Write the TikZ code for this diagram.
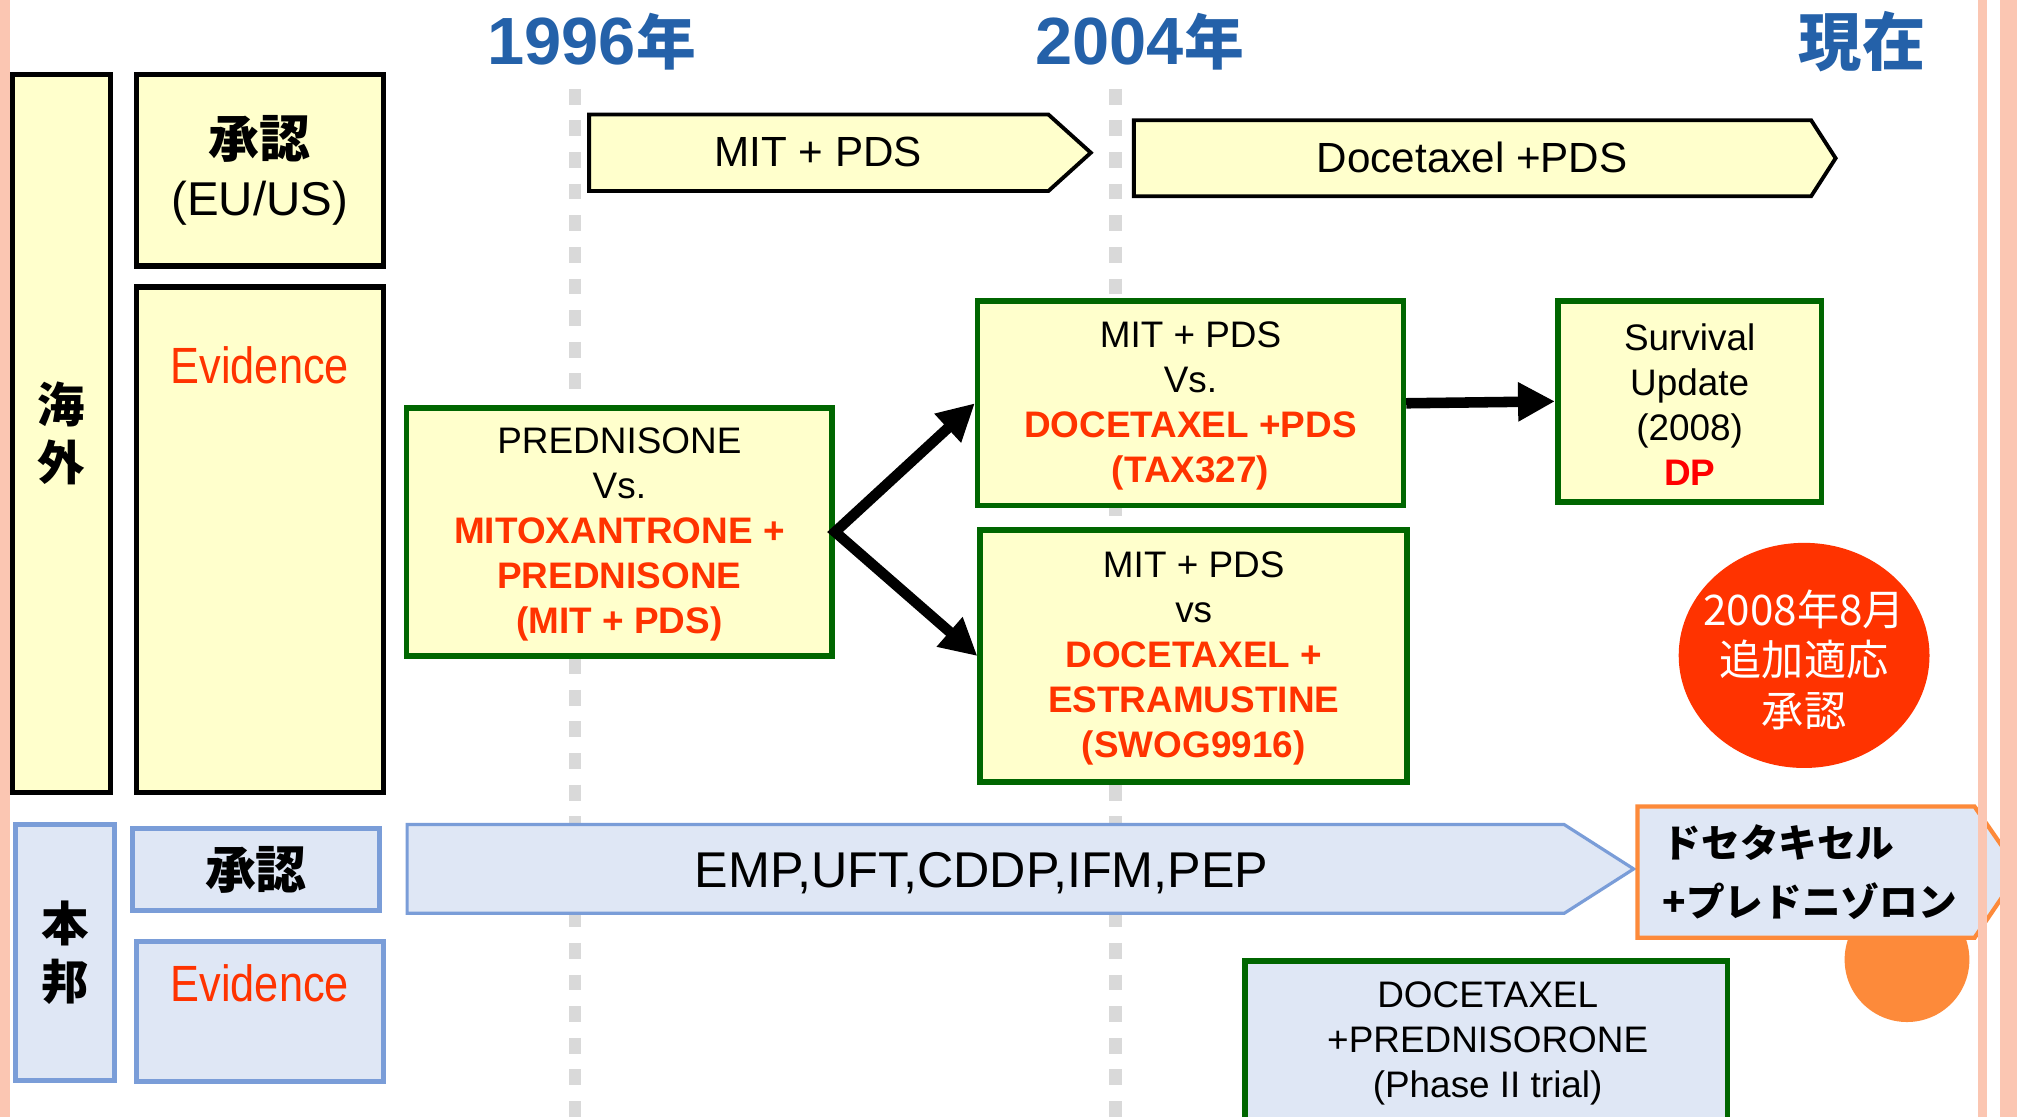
\documentclass[tikz,border=0pt]{standalone}
\usepackage{fontspec}
\setmainfont{Liberation Sans}
\newfontfamily\jpfont{Noto Sans CJK JP}
\newfontfamily\narrowfont{Liberation Sans}[FakeStretch=0.85]
\usetikzlibrary{fit,arrows.meta}
\definecolor{ylfill}{HTML}{FFFFCC}
\definecolor{blfill}{HTML}{DFE7F5}
\definecolor{bledge}{HTML}{7A9DD8}
\definecolor{grn}{HTML}{006600}
\definecolor{redtx}{HTML}{FF3300}
\definecolor{dpred}{HTML}{FF0000}
\definecolor{orng}{HTML}{FD8A3A}
\definecolor{hdblue}{HTML}{2461A9}
\definecolor{dotgray}{HTML}{D9D9D9}
\definecolor{stripe}{HTML}{FBC6B2}
\newcommand{\redtext}[1]{\textcolor{redtx}{\bfseries #1}}
\tikzset{
  timeline/.style={draw=dotgray, line width=3.66pt, dash pattern=on 4.5pt off 4.5pt},
  blkbox/.style={draw=black, fill=ylfill, line width=1.6pt, inner sep=0pt},
  grnbox/.style={draw=grn, fill=ylfill, line width=1.6pt, inner sep=0pt},
  blubox/.style={draw=bledge, fill=blfill, line width=1.5pt, inner sep=0pt},
  boxtext/.style={align=center, yshift=-0.8pt, font=\fontsize{10.5}{12.8}\selectfont},
  yarrow/.style={draw=black, fill=ylfill, line width=1.1pt},
  barrow/.style={draw=bledge, fill=blfill, line width=0.9pt},
  oarrow/.style={draw=orng, fill=blfill, line width=1.2pt},
  year/.style={text=hdblue, font=\bfseries\fontsize{19}{19}\selectfont},
  lab/.style={font=\fontsize{12}{14}\selectfont},
  jplab/.style={font=\jpfont\bfseries\fontsize{13.5}{16.6}\selectfont, align=center},
  evid/.style={text=redtx, font=\narrowfont\fontsize{14.5}{16}\selectfont},
  flow/.style={draw=black, line width=3pt, {Triangle[length=10.5pt,width=10.5pt]}-{Triangle[length=10.5pt,width=10.5pt]}},
  flowone/.style={draw=black, line width=3pt, -{Triangle[length=10.5pt,width=10.5pt]}},
}

\begin{document}
\begin{tikzpicture}[x=0.012864cm, y=-0.012864cm]
  \useasboundingbox (0,0) rectangle (1568,868);
  \clip (0,0) rectangle (1568,868);
  \fill[white] (0,0) rectangle (1568,868);

  % time axis
  \foreach \x in {447,867}
    \draw[timeline] (\x,69) -- (\x,872);
  \node[year] (y1996) at (460,32) {1996{\jpfont\fontsize{17}{17}\selectfont 年}};
  \node[year] (y2004) at (886,32) {2004{\jpfont\fontsize{17}{17}\selectfont 年}};
  \node[year, font=\jpfont\bfseries\fontsize{18}{18}\selectfont] (now) at (1447.5,32) {現在};

  % row labels
  \node[blkbox, fit={(9.5,58) (86,616)}] (abroad) {};
  \node[jplab] (abroadtxt) at (abroad.center) {海\\外};
  \node[blkbox, fit={(106,58) (298,207)}] (euapp) {};
  \node[align=center, font=\fontsize{13.5}{16.5}\selectfont] (euapptxt) at (euapp.center)
    {{\jpfont\bfseries\fontsize{14.5}{16.5}\selectfont 承認}\\(EU/US)};
  \node[blkbox, fit={(106,223) (298,616)}] (evabroad) {};
  \node[evid] (evtxt1) at (202,284) {Evidence};

  \node[blubox, fit={(12,641) (89,840)}] (domestic) {};
  \node[jplab] (domestictxt) at (domestic.center) {本\\邦};
  \node[blubox, fit={(103,644) (295,708)}] (jpapp) {};
  \node[jplab, font=\jpfont\bfseries\fontsize{14.5}{16}\selectfont] (jpapptxt) at (jpapp.center) {承認};
  \node[blubox, fit={(106,732) (298,841)}] (evjapan) {};
  \node[evid] (evtxt2) at (202,764) {Evidence};

  % approvals abroad
  \draw[yarrow] (458,89) -- (815,89) -- (848,118.7) -- (815,148.5) -- (458,148.5) -- cycle;
  \node[lab] (mitpds) at (636,118) {MIT + PDS};
  \draw[yarrow] (881.5,93.5) -- (1408,93.5) -- (1427,123) -- (1408,152.5) -- (881.5,152.5) -- cycle;
  \node[lab] (docpds) at (1144.5,122) {Docetaxel +PDS};

  % trials
  \node[grnbox, fit={(316,317) (647,510)}] (pred) {};
  \node[boxtext] (predtxt) at (pred.center)
    {PREDNISONE\\Vs.\\\redtext{MITOXANTRONE +}\\\redtext{PREDNISONE}\\\redtext{(MIT + PDS)}};
  \node[grnbox, fit={(760,234) (1091,393)}] (tax) {};
  \node[boxtext] (taxtxt) at (tax.center)
    {MIT + PDS\\Vs.\\\redtext{DOCETAXEL +PDS}\\\redtext{(TAX327)}};
  \node[grnbox, fit={(1211,234) (1416,390)}] (surv) {};
  \node[boxtext] (survtxt) at (surv.center)
    {Survival\\Update\\(2008)\\\textcolor{dpred}{\bfseries DP}};
  \node[grnbox, fit={(762,412) (1094,608)}] (swog) {};
  \node[boxtext] (swogtxt) at (swog.center)
    {MIT + PDS\\vs\\\redtext{DOCETAXEL +}\\\redtext{ESTRAMUSTINE}\\\redtext{(SWOG9916)}};

  \draw[flow] (tax.west) -- (pred.east) -- (swog.west);
  \draw[flowone] (tax.east) -- (surv.west);

  \fill[redtx] (1402.5,509.5) ellipse [x radius=97.5, y radius=87.5];
  \node[text=white, align=center, font=\jpfont\fontsize{12}{14.5}\selectfont] (aug2008) at (1402.5,513)
    {2008年8月\\追加適応\\承認};

  % approvals in Japan
  \draw[barrow] (316.5,641) -- (1216,641) -- (1270,675.5) -- (1216,710) -- (316.5,710) -- cycle;
  \node[font=\fontsize{14.3}{16}\selectfont] (emp) at (763,679) {EMP,UFT,CDDP,IFM,PEP};

  \fill[orng] (1482.5,746) circle [radius=48.5];
  \draw[oarrow] (1273,627) -- (1535,627) -- (1570,677.5) -- (1535,729) -- (1273,729) -- cycle;
  \node[anchor=west, inner sep=0pt, align=left, font=\jpfont\bfseries\fontsize{11}{17}\selectfont] (dtxjp) at (1292,678)
    {ドセタキセル\\+プレドニゾロン};

  \node[grnbox, fill=blfill, fit={(968,747) (1343,900)}] (ph2box) {};
  \node[boxtext] (ph2) at (1156.5,809)
    {DOCETAXEL\\+PREDNISORONE\\(Phase II trial)};

  % page edges
  \fill[stripe] (0,0) rectangle (7.5,868);
  \fill[stripe] (1537.7,0) rectangle (1545,868);
  \fill[stripe] (1555,0) rectangle (1568,868);
\end{tikzpicture}
\end{document}
